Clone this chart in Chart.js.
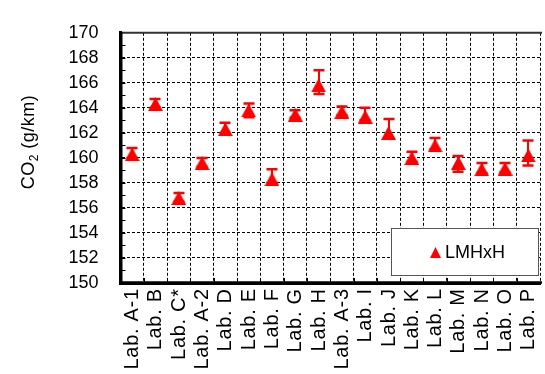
<!DOCTYPE html>
<html><head><meta charset="utf-8">
<script src="https://cdn.jsdelivr.net/npm/chart.js@4.4.0/dist/chart.umd.min.js"></script>
<style>
html,body{margin:0;padding:0;background:#fff;overflow:hidden;}
#wrap{position:relative;width:548px;height:374px;}
</style></head><body>
<div id="wrap"><canvas id="c" width="548" height="374"></canvas></div>
<script>
// Laboratories along the x axis
const labs = ['Lab. A-1','Lab. B','Lab. C*','Lab. A-2','Lab. D','Lab. E','Lab. F','Lab. G','Lab. H',
              'Lab. A-3','Lab. I','Lab. J','Lab. K','Lab. L','Lab. M','Lab. N','Lab. O','Lab. P'];
// CO2 emissions (g/km): mean with upper / lower spread
const co2Mean = [160.3,164.3,156.8,159.6,162.3,163.8,158.3,163.45,165.8,163.7,163.3,162.0,160.0,161.0,159.6,159.1,159.15,160.2];
const co2High = [160.8,164.7,157.2,160.0,162.8,164.35,159.1,163.8,167.0,164.1,164.0,163.1,160.5,161.6,160.15,159.6,159.6,161.4];
const co2Low  = [160.0,164.0,156.5,159.3,162.0,163.25,158.0,163.2,165.1,163.4,163.0,161.6,159.7,160.7,158.9,158.8,158.85,159.4];
const yMin = 150, yMax = 170, yStep = 2;
const seriesName = 'LMHxH';

const FONT = '"Liberation Sans", Arial, sans-serif';
const RED = '#ff0000';

function makeTri(w, h) {
  const cv = document.createElement('canvas');
  cv.width = w; cv.height = h;
  const g = cv.getContext('2d');
  g.fillStyle = RED;
  g.beginPath();
  g.moveTo(w / 2, 0);
  g.lineTo(w, h);
  g.lineTo(0, h);
  g.closePath();
  g.fill();
  return cv;
}
const triMark = makeTri(15, 14);
const triLegend = makeTri(11, 11);

const errorBars = {
  id: 'errorBars',
  beforeDatasetsDraw(chart) {
    const {ctx, scales: {x, y}} = chart;
    ctx.save();
    ctx.strokeStyle = RED;
    co2Mean.forEach((v, i) => {
      const px = Math.round(x.getPixelForValue(i));
      const yh = y.getPixelForValue(co2High[i]);
      const yl = y.getPixelForValue(co2Low[i]);
      ctx.lineWidth = 2;
      ctx.beginPath(); ctx.moveTo(px, yh); ctx.lineTo(px, yl); ctx.stroke();
      ctx.lineWidth = 2.5;
      ctx.beginPath();
      ctx.moveTo(px - 5.5, yh); ctx.lineTo(px + 5.5, yh);
      ctx.moveTo(px - 5.5, yl); ctx.lineTo(px + 5.5, yl);
      ctx.stroke();
    });
    ctx.restore();
  }
};

const frame = {
  id: 'frame',
  afterDraw(chart) {
    const {ctx, chartArea: a, scales: {x, y}} = chart;
    ctx.save();
    // top edge of the plot
    ctx.strokeStyle = '#333';
    ctx.lineWidth = 2;
    ctx.beginPath(); ctx.moveTo(a.left, a.top); ctx.lineTo(a.right + 2, a.top); ctx.stroke();
    // axis lines
    ctx.strokeStyle = '#000';
    ctx.lineWidth = 3;
    ctx.beginPath(); ctx.moveTo(121, a.top - 1); ctx.lineTo(121, a.bottom + 1); ctx.stroke();
    ctx.lineWidth = 2.5;
    ctx.beginPath(); ctx.moveTo(119.5, 282.5); ctx.lineTo(a.right + 2, 282.5); ctx.stroke();
    // inner tick marks on the value axis
    ctx.lineWidth = 1;
    for (let v = yMin + 1; v < yMax; v += 1) {
      const py = Math.round(y.getPixelForValue(v)) + 0.5;
      ctx.beginPath(); ctx.moveTo(a.left, py); ctx.lineTo(a.left + 5, py); ctx.stroke();
    }
    // inner tick marks between categories
    for (let i = 1; i < labs.length; i++) {
      const px = Math.round((x.getPixelForValue(i - 1) + x.getPixelForValue(i)) / 2) + 0.5;
      ctx.beginPath(); ctx.moveTo(px, a.bottom); ctx.lineTo(px, a.bottom - 5); ctx.stroke();
    }
    // category labels, rotated, reading upwards
    ctx.fillStyle = '#000';
    ctx.font = '20px ' + FONT;
    ctx.letterSpacing = '0.7px';
    ctx.textAlign = 'right';
    ctx.textBaseline = 'middle';
    labs.forEach((t, i) => {
      ctx.save();
      ctx.translate(x.getPixelForValue(i) + 0.5, 289);
      ctx.rotate(-Math.PI / 2);
      ctx.fillText(t, 0.7, 0);
      ctx.restore();
    });
    ctx.letterSpacing = '0px';
    // legend
    const lx = 391.5, ly = 228.5, lw = 147, lh = 47;
    ctx.fillStyle = '#fff';
    ctx.fillRect(lx, ly, lw, lh);
    ctx.strokeStyle = '#555';
    ctx.lineWidth = 1;
    ctx.strokeRect(lx, ly, lw, lh);
    ctx.drawImage(triLegend, 430, 247);
    ctx.fillStyle = '#000';
    ctx.font = '18px ' + FONT;
    ctx.textBaseline = 'middle';
    ctx.textAlign = 'left';
    ctx.fillText(chart.data.datasets[0].label, 445, 253);
    // value axis title with subscript
    ctx.translate(28, 142);
    ctx.rotate(-Math.PI / 2);
    ctx.letterSpacing = '0.5px';
    const big = '18px ' + FONT, small = '12px ' + FONT;
    ctx.font = big; const w1 = ctx.measureText('CO').width;
    ctx.font = small; const w2 = ctx.measureText('2').width;
    ctx.font = big; const w3 = ctx.measureText(' (g/km)').width;
    let sx = -(w1 + w2 + w3) / 2;
    ctx.textBaseline = 'alphabetic';
    ctx.font = big; ctx.fillText('CO', sx, 6); sx += w1;
    ctx.font = small; ctx.fillText('2', sx, 10); sx += w2;
    ctx.font = big; ctx.fillText(' (g/km)', sx, 6);
    ctx.restore();
  }
};

new Chart(document.getElementById('c'), {
  type: 'line',
  data: {
    labels: labs,
    datasets: [{
      label: seriesName,
      data: co2Mean,
      showLine: false,
      pointStyle: triMark,
      pointRadius: 7,
      pointHoverRadius: 7,
      borderColor: RED,
      backgroundColor: RED
    }]
  },
  options: {
    responsive: false,
    devicePixelRatio: 1,
    animation: false,
    layout: {padding: {top: 15, left: 0, right: 0, bottom: 0}},
    plugins: {legend: {display: false}, tooltip: {enabled: false}},
    scales: {
      x: {
        type: 'category',
        offset: true,
        grid: {offset: true, color: '#000', lineWidth: 1, drawTicks: false},
        border: {display: true, color: '#000', width: 3, dash: [3, 2]},
        ticks: {display: false, autoSkip: false},
        afterFit(s) { s.height = 91; }
      },
      y: {
        min: yMin, max: yMax,
        grid: {color: '#000', lineWidth: 1, drawTicks: false},
        border: {display: true, color: '#000', width: 3, dash: [3, 2]},
        ticks: {stepSize: yStep, padding: 22, color: '#000', font: {family: FONT, size: 18}},
        afterFit(s) { s.width = 120.5; }
      }
    }
  },
  plugins: [errorBars, frame]
});
</script>
</body></html>
